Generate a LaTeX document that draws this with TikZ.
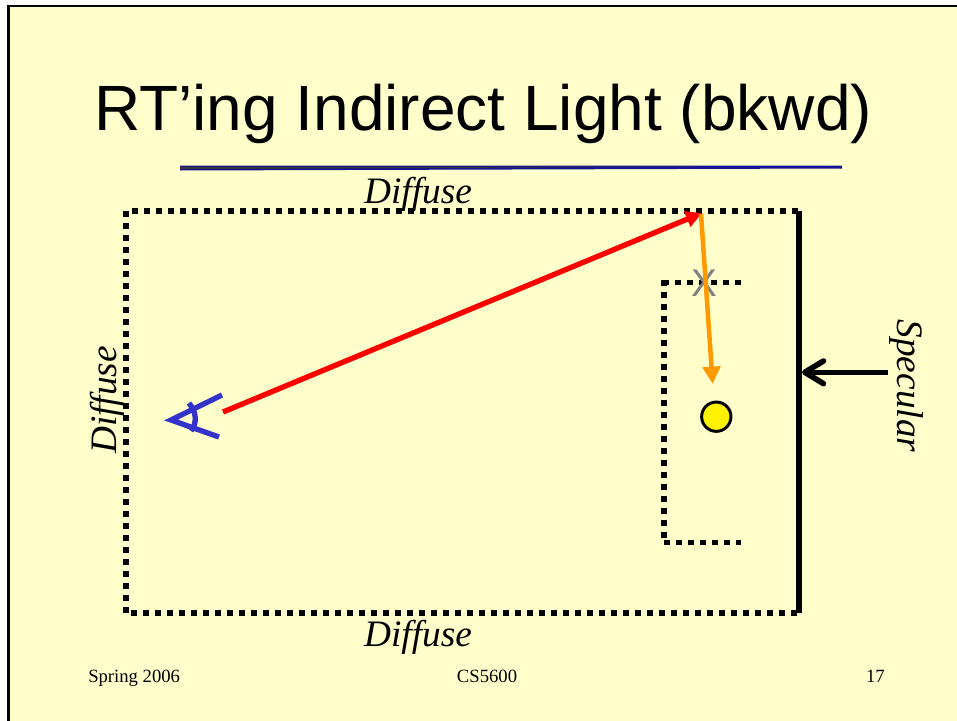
\documentclass[tikz,border=0pt]{standalone}
\usepackage{fontspec}
\setmainfont{Liberation Serif}
\newfontfamily\titlefont{Liberation Sans}
\usetikzlibrary{arrows.meta}

\definecolor{slidebg}{RGB}{255,255,204}
\definecolor{rulenavy}{RGB}{20,20,150}
\definecolor{rulecore}{RGB}{50,50,70}
\definecolor{eyeblue}{RGB}{51,51,204}
\definecolor{rayorange}{RGB}{255,153,0}

\tikzstyle{walllabel} = [font=\fontsize{28}{30}\selectfont\itshape,inner sep=0pt]
\tikzstyle{footlabel} = [font=\fontsize{14}{16}\selectfont,inner sep=0pt]
\tikzstyle{diffusewall} = [line width=4.2pt,dash pattern=on 4.2pt off 4.8pt]

\begin{document}
\begin{tikzpicture}[x=0.75pt,y=-0.75pt]
	\useasboundingbox (0,0) rectangle (957,721);
	\fill[white] (0,0) rectangle (957,721);
	\fill[slidebg] (8,5) rectangle (957,721);
	\draw[line width=1.9pt] (8.5,721) -- (8.5,6) -- (957,6);

	\node[inner sep=0pt,anchor=base west] (title) at (94,130)
		{\titlefont\fontsize{48}{50}\selectfont RT’ing Indirect Light (bkwd)};
	\fill[rulenavy] (180,165.5) -- (842,165.5) -- (842,168.5) -- (180,170.5) -- cycle;
	\fill[rulecore] (180,166.7) -- (700,166.7) -- (180,169.3) -- cycle;

	\coordinate (tl) at (131,211);
	\coordinate (tr) at (797.8,211);
	\coordinate (ltop) at (126,211.2);
	\coordinate (lbot) at (126,613);
	\coordinate (bl) at (131.2,613);
	\coordinate (br) at (797,613);
	\coordinate (wtop) at (799,211);
	\coordinate (wbot) at (799,613);
	\draw[diffusewall] (tr) -- (tl);
	\draw[diffusewall] (ltop) -- (lbot);
	\draw[diffusewall] (bl) -- (br);
	\draw[line width=4pt] (wtop) -- (wbot);

	\coordinate (itl) at (663.5,282.5);
	\coordinate (itr) at (740.8,282.5);
	\coordinate (icol) at (664,280.2);
	\coordinate (icolb) at (664,540);
	\coordinate (ibl) at (664.2,542.5);
	\coordinate (ibr) at (741,542.5);
	\draw[diffusewall] (itr) -- (itl);
	\draw[diffusewall] (icol) -- (icolb);
	\draw[diffusewall] (ibl) -- (ibr);

	\node[walllabel] (dtop) at (418,194) {Diffuse};
	\node[walllabel] (dbot) at (418,637) {Diffuse};
	\node[walllabel,rotate=90] (dleft) at (107.5,400) {Diffuse};
	\node[walllabel,rotate=-90] (sright) at (906,386) {Specular};

	% eye
	\coordinate (eye) at (171,420);
	\coordinate (lid1) at (222,395);
	\coordinate (lid2) at (219,437);
	\draw[eyeblue,line width=4pt] (lid1) -- (eye) -- (lid2);
	\draw[eyeblue,line width=4pt] (189,403) .. controls (197,413) and (197,423) .. (191,431);

	% rays
	\coordinate (start) at (223,412);
	\coordinate (hit) at (702,213);
	\coordinate (target) at (712.7,384);
	\coordinate (bounce) at (701,214);
	\node[font=\titlefont\fontsize{29}{29}\selectfont,text=gray,inner sep=0pt] (blocked) at (704,283) {X};
	\draw[red,line width=4pt,-{Triangle[length=12pt,width=12pt]}] (start) -- (hit);
	\draw[rayorange,line width=3.4pt,-{Triangle[length=13pt,width=13pt]}] (bounce) -- (target);

	\node[circle,draw,fill=yellow,line width=2.2pt,minimum size=22pt,inner sep=0pt] (light) at (716.3,416.7) {};

	\coordinate (arrowtail) at (888,372.3);
	\coordinate (arrowtip) at (802,372.3);
	\draw[line width=4.2pt,-{Straight Barb[length=14pt,width=17pt,round]}] (arrowtail) -- (arrowtip);

	\node[footlabel,anchor=base west] (fdate) at (88,682) {Spring 2006};
	\node[footlabel,anchor=base] (fcourse) at (487,682) {CS5600};
	\node[footlabel,anchor=base east] (fpage) at (885,682) {17};
\end{tikzpicture}
\end{document}
